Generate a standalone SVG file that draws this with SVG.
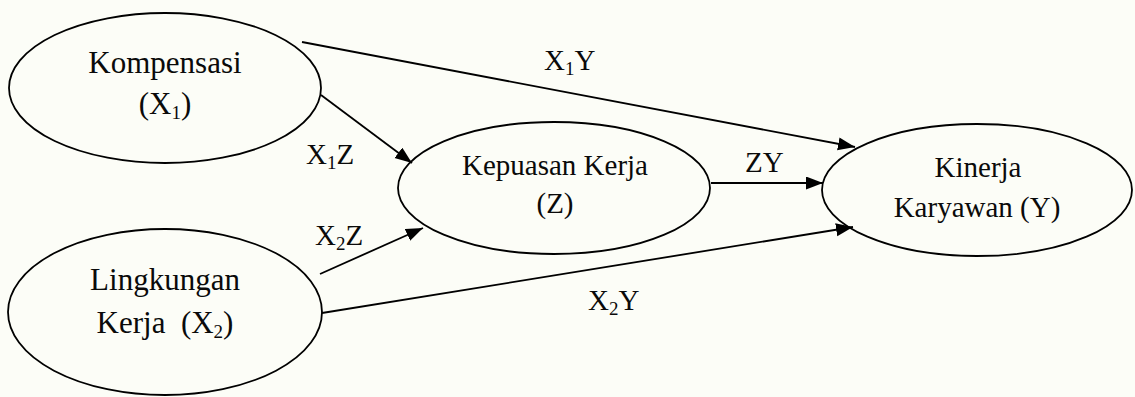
<svg xmlns="http://www.w3.org/2000/svg" width="1135" height="397" viewBox="0 0 1135 397">
  <defs>
    <marker id="arrow" markerUnits="userSpaceOnUse" markerWidth="18" markerHeight="14" refX="17" refY="6.5" orient="auto">
      <path d="M0,0 L17,6.5 L0,13 Z" fill="#000"/>
    </marker>
    <style>
      .node { fill: none; stroke: #000; stroke-width: 1.8; }
      .label { font-family: "Liberation Serif", "Times New Roman", serif; font-size: 29px; fill: #0a0a0a; text-anchor: middle; }
      .label.big { font-size: 31px; }
      .edge-label { font-family: "Liberation Serif", "Times New Roman", serif; font-size: 29px; fill: #0a0a0a; }
      .sub { font-size: 19px; }
      .edge { stroke: #000; stroke-width: 1.8; fill: none; marker-end: url(#arrow); }
    </style>
  </defs>

  <rect x="0" y="0" width="1135" height="397" fill="#fcfdf7"/>

  <!-- connectors -->
  <g id="connectors">
    <line class="edge" x1="302" y1="42" x2="855" y2="147"/>
    <line class="edge" x1="321" y1="95" x2="412" y2="163"/>
    <line class="edge" x1="320" y1="274" x2="423" y2="228"/>
    <line class="edge" x1="322" y1="313" x2="853" y2="227"/>
    <line class="edge" x1="711" y1="183" x2="823" y2="183"/>

    <text class="edge-label" x="544" y="70">X<tspan class="sub" dy="5">1</tspan><tspan dy="-5">Y</tspan></text>
    <text class="edge-label" x="306" y="164">X<tspan class="sub" dy="5">1</tspan><tspan dy="-5">Z</tspan></text>
    <text class="edge-label" x="315" y="245">X<tspan class="sub" dy="5">2</tspan><tspan dy="-5">Z</tspan></text>
    <text class="edge-label" x="745" y="172">ZY</text>
    <text class="edge-label" x="588" y="310">X<tspan class="sub" dy="5">2</tspan><tspan dy="-5">Y</tspan></text>
  </g>

  <!-- Kompensasi (X1) -->
  <g id="kompensasi">
    <ellipse class="node" cx="165" cy="88" rx="156" ry="75"/>
    <text class="label big" x="165" y="73">Kompensasi</text>
    <text class="label big" x="165" y="114">(X<tspan class="sub" dy="5">1</tspan><tspan dy="-5">)</tspan></text>
  </g>

  <!-- Lingkungan Kerja (X2) -->
  <g id="lingkungan">
    <ellipse class="node" cx="165" cy="312" rx="157" ry="83"/>
    <text class="label big" x="165" y="290">Lingkungan</text>
    <text class="label big" x="165" y="333" xml:space="preserve">Kerja  (X<tspan class="sub" dy="5">2</tspan><tspan dy="-5">)</tspan></text>
  </g>

  <!-- Kepuasan Kerja (Z) -->
  <g id="kepuasan">
    <ellipse class="node" cx="554" cy="188" rx="156" ry="66"/>
    <text class="label" x="555" y="175">Kepuasan Kerja</text>
    <text class="label" x="555" y="213">(Z)</text>
  </g>

  <!-- Kinerja Karyawan (Y) -->
  <g id="kinerja">
    <ellipse class="node" cx="977" cy="190" rx="155" ry="66"/>
    <text class="label" x="978" y="177">Kinerja</text>
    <text class="label" x="977" y="217">Karyawan (Y)</text>
  </g>
</svg>
